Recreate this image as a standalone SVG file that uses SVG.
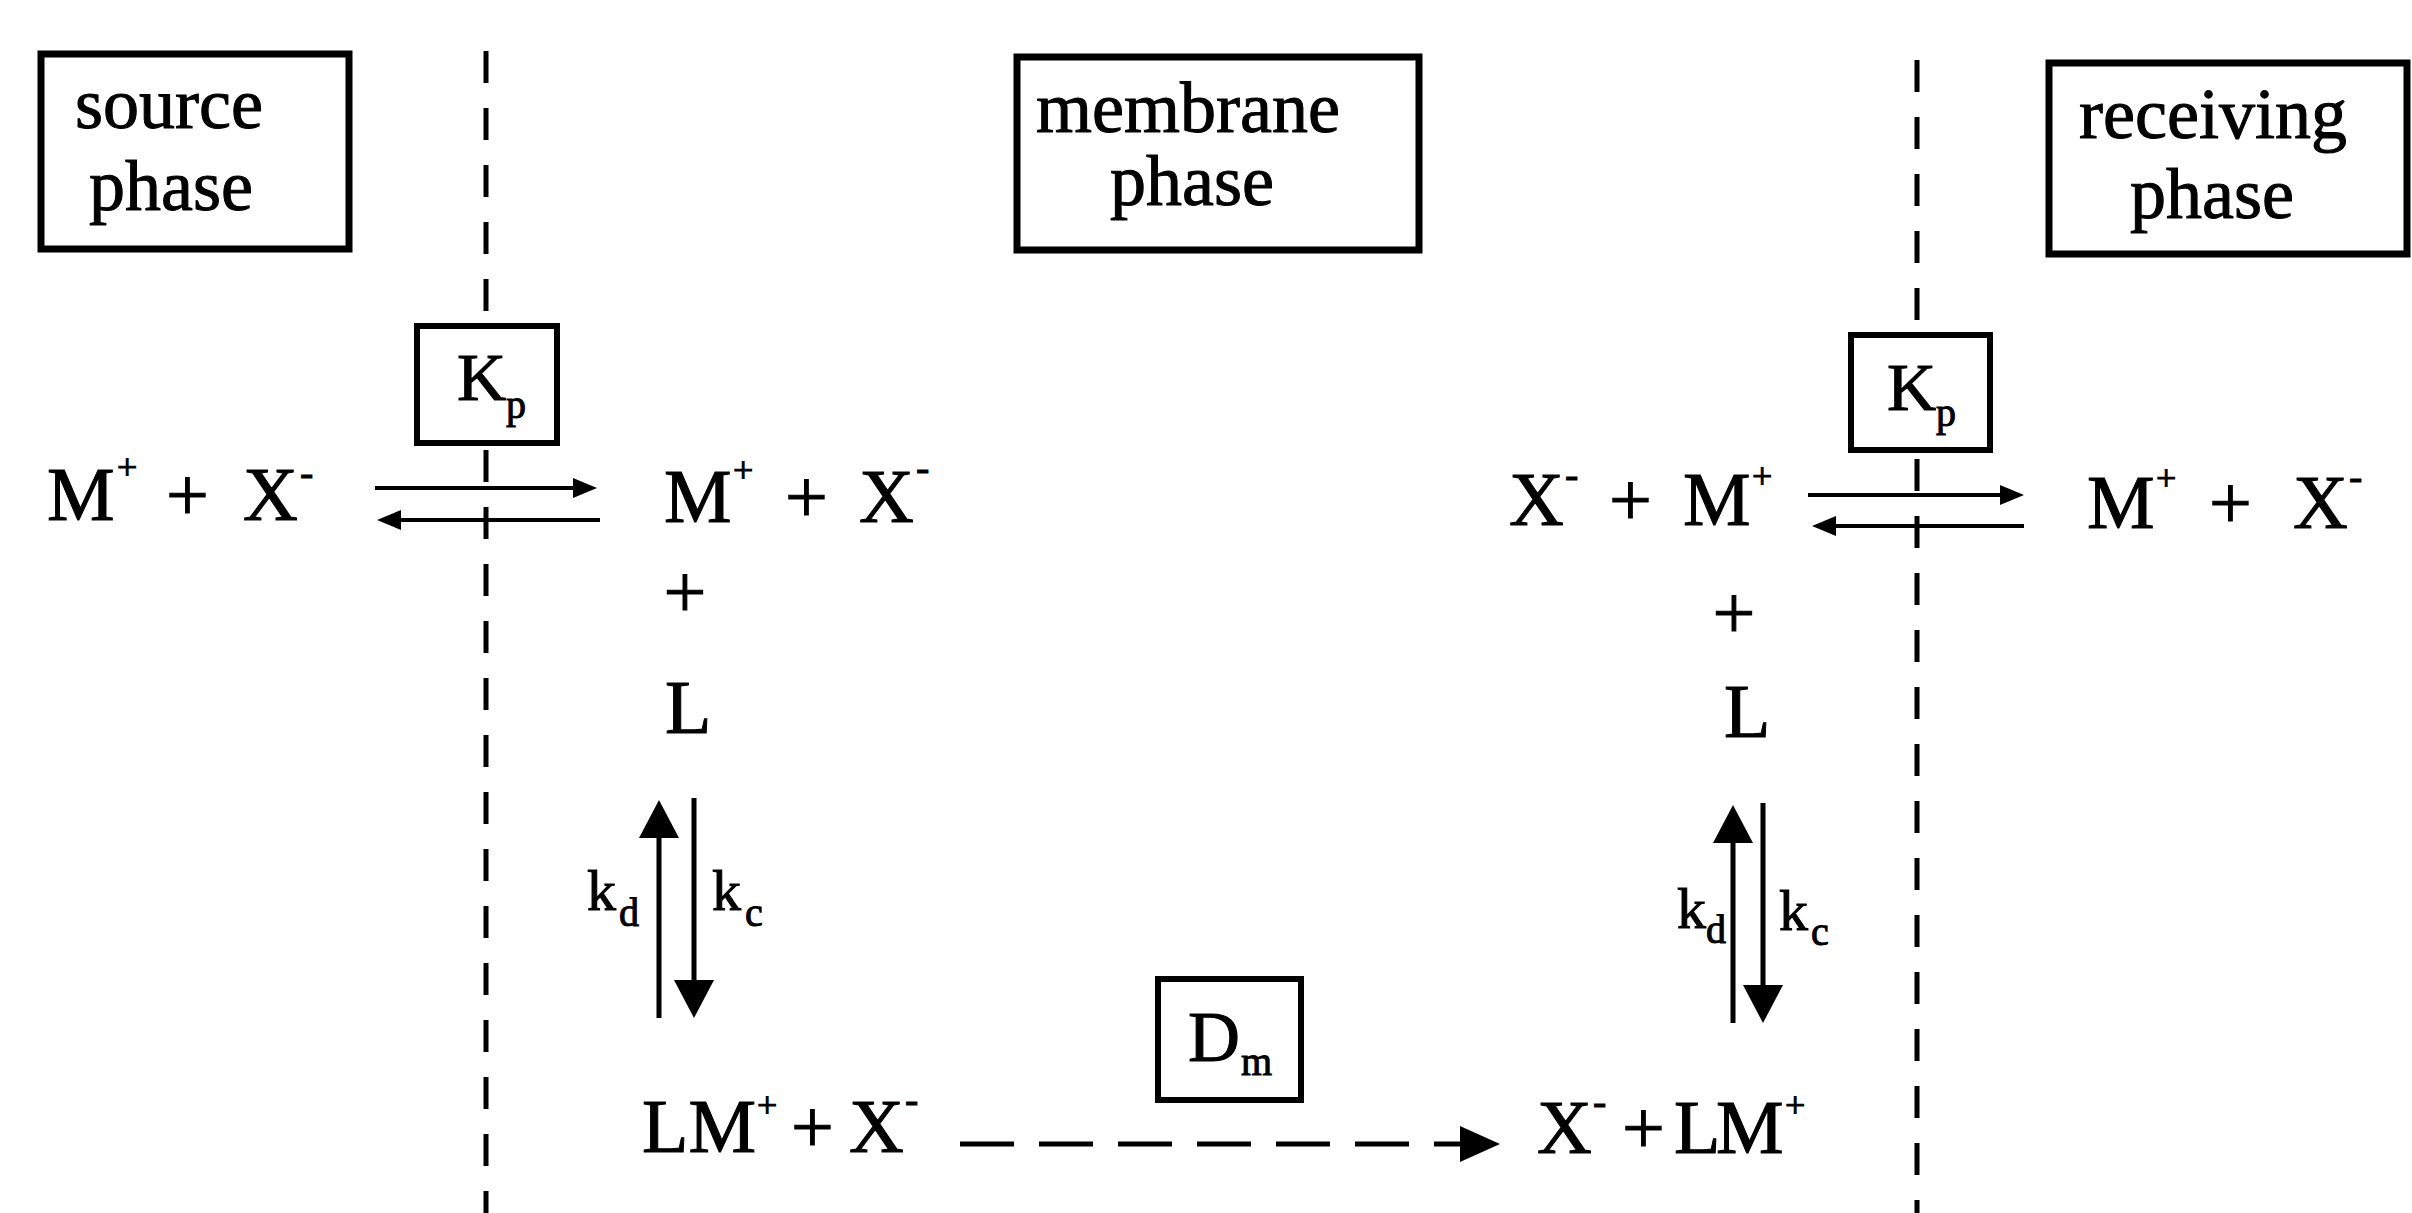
<svg xmlns="http://www.w3.org/2000/svg" width="2412" height="1213" viewBox="0 0 2412 1213">
<style>
  .t { font-family: "Liberation Serif", "Times New Roman", serif; fill: #000; stroke: #000; stroke-width: 1; }
  .title { font-size: 72px; text-anchor: middle; }
  .eq { font-size: 76px; }
  .sup { font-size: 36px; }
  .supm { font-size: 40px; }
  .kk { font-size: 68px; }
  .sub { font-size: 40px; }
  .rate { font-size: 58px; }
  .box { fill: #fff; stroke: #000; stroke-width: 7; }
  .sbox { fill: #fff; stroke: #000; stroke-width: 6; }
  .divider { fill: none; stroke: #000; stroke-width: 5; stroke-dasharray: 32 25; }
  .arr { fill: none; stroke: #000; stroke-width: 5; }
  .eqarr { fill: none; stroke: #000; stroke-width: 4; }
  .dash { fill: none; stroke: #000; stroke-width: 5; stroke-dasharray: 54 25; }
</style>
<defs>
  <marker id="headLarge" viewBox="0 0 38 40" markerWidth="38" markerHeight="40" refX="28" refY="20" orient="auto" markerUnits="userSpaceOnUse">
    <path d="M0,0 L38,20 L0,40 z" fill="#000"/>
  </marker>
  <marker id="headSmall" viewBox="0 0 24 20" markerWidth="24" markerHeight="20" refX="18" refY="10" orient="auto" markerUnits="userSpaceOnUse">
    <path d="M0,0 L24,10 L0,20 z" fill="#000"/>
  </marker>
  <marker id="headDash" viewBox="0 0 40 36" markerWidth="40" markerHeight="36" refX="2" refY="18" orient="auto" markerUnits="userSpaceOnUse">
    <path d="M0,0 L40,18 L0,36 z" fill="#000"/>
  </marker>
</defs>
<rect width="2412" height="1213" fill="#fff"/>

<g id="phase-boundaries">
  <line class="divider" x1="486" y1="51" x2="486" y2="1213"/>
  <line class="divider" x1="1917" y1="60" x2="1917" y2="1213"/>
</g>

<g id="connectors">
  <path class="eqarr" d="M375,488 L591,488" marker-end="url(#headSmall)"/>
  <path class="eqarr" d="M600,520 L383,520" marker-end="url(#headSmall)"/>
  <path class="eqarr" d="M1808,495 L2018,495" marker-end="url(#headSmall)"/>
  <path class="eqarr" d="M2024,526 L1818,526" marker-end="url(#headSmall)"/>
  <path class="arr" d="M659,1018 L659,810" marker-end="url(#headLarge)"/>
  <path class="arr" d="M694,798 L694,1008" marker-end="url(#headLarge)"/>
  <path class="arr" d="M1733,1023 L1733,815" marker-end="url(#headLarge)"/>
  <path class="arr" d="M1763,803 L1763,1013" marker-end="url(#headLarge)"/>
  <path class="dash" d="M960,1144 L1462,1144" marker-end="url(#headDash)"/>
</g>

<g id="source-phase">
  <rect class="box" x="41" y="54" width="308" height="195"/>
  <text class="t title" x="169" y="128">source</text>
  <text class="t title" x="171" y="210">phase</text>
</g>

<g id="membrane-phase">
  <rect class="box" x="1017" y="57" width="402" height="193"/>
  <text class="t title" x="1188" y="132">membrane</text>
  <text class="t title" x="1192" y="205">phase</text>
</g>

<g id="receiving-phase">
  <rect class="box" x="2049" y="63" width="358" height="191"/>
  <text class="t title" x="2213" y="138">receiving</text>
  <text class="t title" x="2212" y="218">phase</text>
</g>

<g id="kp-source">
  <rect class="sbox" x="417" y="326" width="140" height="117"/>
  <text class="t kk" x="457" y="400">K<tspan class="sub" x="506" y="418">p</tspan></text>
</g>

<g id="kp-receiving">
  <rect class="sbox" x="1851" y="335" width="139" height="115"/>
  <text class="t kk" x="1887" y="410">K<tspan class="sub" x="1936" y="426">p</tspan></text>
</g>

<g id="dm-box">
  <rect class="sbox" x="1158" y="979" width="143" height="121"/>
  <text class="t" font-size="72" x="1188" y="1061">D<tspan class="sub" x="1241" y="1075">m</tspan></text>
</g>

<g id="source-species">
  <text class="t eq" y="520"><tspan x="47">M</tspan><tspan class="sup" x="117" y="479">+</tspan><tspan x="166" y="520">+</tspan><tspan x="243">X</tspan><tspan class="supm" x="300" y="486">-</tspan></text>
</g>

<g id="membrane-left-species">
  <text class="t eq" y="522"><tspan x="664">M</tspan><tspan class="sup" x="733" y="482">+</tspan><tspan x="785" y="522">+</tspan><tspan x="859">X</tspan><tspan class="supm" x="916" y="481">-</tspan></text>
  <text class="t eq" x="685" y="617" text-anchor="middle">+</text>
  <text class="t eq" x="665" y="733">L</text>
</g>

<g id="rates-left">
  <text class="t rate" x="587" y="910">k<tspan class="sub" x="619" y="926">d</tspan></text>
  <text class="t rate" x="712" y="910">k<tspan class="sub" x="745" y="926">c</tspan></text>
</g>

<g id="complex-left">
  <text class="t eq" y="1152"><tspan x="642">LM</tspan><tspan class="sup" x="757" y="1117">+</tspan><tspan x="791" y="1152">+</tspan><tspan x="849">X</tspan><tspan class="supm" x="905" y="1113">-</tspan></text>
</g>

<g id="complex-right">
  <text class="t eq" y="1153"><tspan x="1537">X</tspan><tspan class="supm" x="1593" y="1115">-</tspan><tspan x="1622" y="1153">+</tspan><tspan x="1674">L</tspan><tspan x="1716">M</tspan><tspan class="sup" x="1785" y="1117">+</tspan></text>
</g>

<g id="rates-right">
  <text class="t rate" x="1677" y="928">k<tspan class="sub" x="1706" y="943">d</tspan></text>
  <text class="t rate" x="1779" y="930">k<tspan class="sub" x="1811" y="945">c</tspan></text>
</g>

<g id="membrane-right-species">
  <text class="t eq" y="525"><tspan x="1509">X</tspan><tspan class="supm" x="1565" y="488">-</tspan><tspan x="1609" y="525">+</tspan><tspan x="1683">M</tspan><tspan class="sup" x="1752" y="488">+</tspan></text>
  <text class="t eq" x="1734" y="638" text-anchor="middle">+</text>
  <text class="t eq" x="1724" y="737">L</text>
</g>

<g id="receiving-species">
  <text class="t eq" y="528"><tspan x="2087">M</tspan><tspan class="sup" x="2156" y="490">+</tspan><tspan x="2209" y="528">+</tspan><tspan x="2293">X</tspan><tspan class="supm" x="2349" y="490">-</tspan></text>
</g>
</svg>
